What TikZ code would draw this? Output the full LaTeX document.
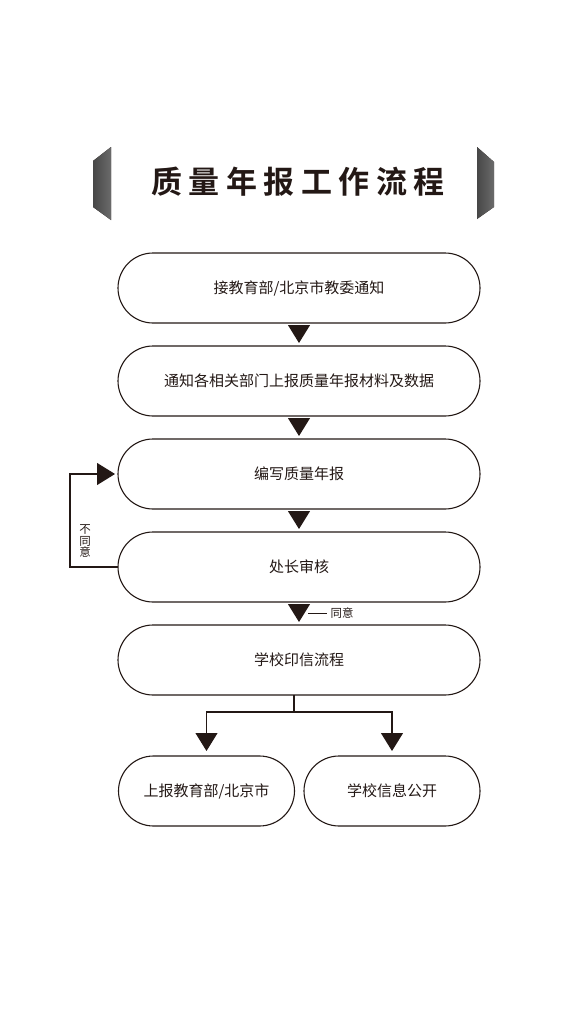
\documentclass[tikz,border=0pt]{standalone}
\usepackage{fontspec}
\setmainfont{Noto Sans CJK SC}
\newfontfamily\titlefont{Noto Sans CJK SC Bold}[LetterSpace=21]
\usetikzlibrary{arrows.meta,positioning}
\definecolor{ink}{RGB}{35,24,21}

\begin{document}
\begin{tikzpicture}[x=1pt,y=-1pt,>={Triangle[width=22pt,length=18pt]},node distance=23pt,
	color=ink, line width=1.1pt,
	box/.style={rectangle, draw, rounded corners=35pt, minimum width=362pt, minimum height=70pt,
		inner sep=0pt, outer sep=0pt, font=\fontsize{15pt}{18pt}\selectfont},
	half/.style={box, minimum width=176pt},
	small/.style={inner sep=0pt, font=\fontsize{11.5pt}{11.5pt}\selectfont},
	deco/.style={left color=black!72, right color=black!58},
	flow/.style={->, shorten <=2pt, shorten >=3pt}]
	
	\useasboundingbox (0,0) rectangle (588,1022);
	
	% title
	\fill[deco] (111,147) -- (93,161) -- (93,207) -- (111,220) -- cycle;
	\fill[deco] (477,147) -- (494,162) -- (494,207) -- (477,219) -- cycle;
	\node[font=\titlefont\fontsize{31pt}{36pt}\selectfont] (T) at (298,182) {质量年报工作流程};
	
	\node[box] (A) at (299,288) {接教育部/北京市教委通知};
	\node[box] (B) [below=of A] {通知各相关部门上报质量年报材料及数据};
	\node[box] (C) [below=of B] {编写质量年报};
	\node[box] (D) [below=of C] {处长审核};
	\node[box] (E) [below=of D] {学校印信流程};
	\node[half] (F) at (206.5,791) {上报教育部/北京市};
	\node[half] (G) at (392,791) {学校信息公开};
	
	\path
	(A) edge [flow] (B)
	(B) edge [flow] (C)
	(C) edge [flow] (D)
	(D) edge [flow] node [small, right=31pt] (Y) {同意} (E);
	\coordinate (y0) at ([xshift=-22pt]Y.west);
	\draw[line width=1.4pt] (y0) -- ([xshift=-3pt]Y.west);
	
	% back to writing
	\draw[->, shorten >=3pt] (D.west) -- ++(-48,0) |- (C.west);
	\node[small, align=center] (N) at (85,541) {不\\同\\意};
	
	% split
	\coordinate (fork) at ([xshift=-5pt,yshift=-17pt]E.south);
	\draw (fork |- E.south) -- (fork);
	\draw[->, shorten >=5pt] (fork) -| (F.north);
	\draw[->, shorten >=5pt] (fork) -| (G.north);
\end{tikzpicture}
\end{document}
